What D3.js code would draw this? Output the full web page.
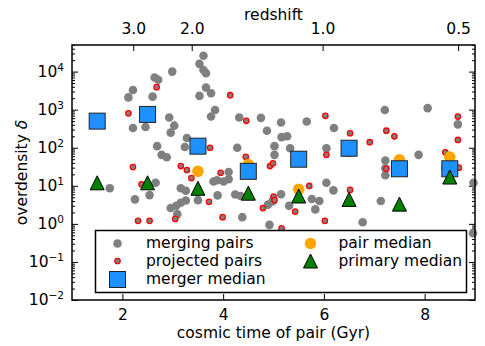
<!DOCTYPE html>
<html>
<head>
<meta charset="utf-8">
<script src="https://cdn.jsdelivr.net/npm/d3@7"></script>
<style>
  body { margin: 0; background: #fff; }
  svg text { font-family: "DejaVu Sans", sans-serif; }
</style>
</head>
<body>
<svg id="chart" width="485" height="346"></svg>
<script>
// merging pairs: cosmic time (Gyr) and overdensity
const mergeTime = [3.61, 3.53, 3.61, 3.66, 2.99, 2.64, 2.71, 3.66, 3.76, 3.53, 2.60, 2.21, 2.12,
  3.84, 3.76, 4.32, 2.93, 3.03, 2.96, 2.21, 2.46, 4.75, 4.87, 5.15, 5.16, 5.27, 5.02, 5.02, 5.33,
  5.66, 6.20, 7.21, 8.06, 8.66, 2.69, 2.78, 2.88, 3.28, 3.24, 4.28, 6.05, 7.88, 7.22, 7.22, 7.22,
  8.41, 4.11, 4.11, 4.01, 3.88, 3.81, 1.75, 2.66, 3.16, 3.26, 2.25, 2.54, 3.50, 3.26, 3.16, 3.07,
  2.96, 3.09, 3.89, 4.24, 4.35, 4.38, 5.15, 4.98, 4.89, 5.31, 4.92, 6.05, 6.19, 5.76, 5.91, 5.83,
  7.13, 6.77, 8.97, 8.96];
const mergeDelta = [26000, 16000, 11000, 9100, 10000, 7000, 6100, 3800, 2700, 2300, 2200, 3300, 2100,
  980, 660, 620, 620, 380, 250, 330, 350, 610, 280, 460, 190, 200, 110, 65, 97,
  490, 330, 980, 1100, 410, 110, 65, 56, 180, 105, 100, 97, 65, 46, 29, 19,
  29, 23, 15, 13, 14, 13, 8.6, 12, 8.6, 7.4, 4.4, 5.7, 4.2, 4.1, 3.6, 3.0,
  2.6, 1.8, 5.6, 5.9, 5.4, 1.5, 6.0, 3.9, 3.2, 3.0, 0.94, 12, 7.6, 4.5, 4.0, 2.4,
  4.0, 1.1, 12, 0.57];

// projected pairs
const projTime = [2.68, 4.14, 2.12, 4.46, 3.74, 4.45, 2.21, 3.16, 3.28, 3.37, 3.95, 2.38, 3.72,
  3.99, 2.31, 2.54, 3.05, 4.93, 4.99, 5.00, 5.02, 4.79, 5.16, 6.52, 7.24, 7.40, 6.91, 6.05,
  7.24, 5.71, 6.52, 5.43, 6.02, 6.03, 8.66, 8.66, 8.41, 8.68];
const projDelta = [3900, 2400, 800, 510, 100, 58, 31, 33, 26, 16, 22, 11, 3.8,
  1.5, 1.2, 1.2, 1.35, 33, 39, 5.2, 4.2, 2.6, 0.76, 240, 280, 200, 140, 65,
  28, 9.9, 7.8, 2.1, 1.2, 690, 660, 160, 76, 30];

// medians per time bin
const binTime = [1.5, 2.5, 3.5, 4.5, 5.5, 6.5, 7.5, 8.5];
const mergerMedian = [500, 750, 110, 24, 50, 97, 28, 28];
const pairMedian = [500, 750, 24, 36, 8.1, 80, 48, 57];
const primaryMedian = [12, 12, 8.6, 6.4, 5.4, 4.4, 3.3, 17];

const timeTicks = [2, 4, 6, 8];
const redshiftTicks = [3.0, 2.0, 1.0, 0.5];
const deltaExponents = [-2, -1, 0, 1, 2, 3, 4];

// age of a flat LCDM universe (Om = 0.25, h = 0.73)
function cosmicTime(z) {
  const om = 0.25, ol = 0.75, hubbleTime = 977.8 / 73;
  return 2 / (3 * Math.sqrt(ol)) * hubbleTime *
    Math.asinh(Math.sqrt(ol / om) * Math.pow(1 + z, -1.5));
}

const width = 485, height = 346;
const margin = { top: 45, right: 10, bottom: 46, left: 72 };
const fontSize = 15.5;

const svg = d3.select('#chart');

const x = d3.scaleLinear().domain([1, 9]).range([margin.left, width - margin.right]);
const y = d3.scaleLog().domain([1e-2, 5e4]).range([height - margin.bottom, margin.top]);

const majorY = deltaExponents.map((e) => Math.pow(10, e));
const minorY = [];
deltaExponents.forEach((e) => {
  for (let k = 2; k <= 9; k++) {
    const v = k * Math.pow(10, e);
    if (v <= 5e4) minorY.push(v);
  }
});

function styleAxis(g) {
  g.select('.domain').remove();
  g.selectAll('line').attr('stroke', '#000').attr('stroke-width', 1);
  g.selectAll('text').attr('font-family', 'DejaVu Sans').attr('font-size', fontSize).attr('fill', '#000');
}

// bottom axis
svg.append('g')
  .attr('transform', `translate(0,${height - margin.bottom})`)
  .call(d3.axisBottom(x).tickValues(timeTicks).tickFormat(d3.format('d'))
    .tickSizeInner(-6).tickSizeOuter(0).tickPadding(9))
  .call(styleAxis);

// top axis: redshift
svg.append('g')
  .attr('transform', `translate(0,${margin.top})`)
  .call(d3.axisTop(x).tickValues(redshiftTicks.map(cosmicTime))
    .tickFormat((d, i) => redshiftTicks[i].toFixed(1))
    .tickSizeInner(-6).tickSizeOuter(0).tickPadding(11))
  .call(styleAxis);

// left axis
const leftAxis = svg.append('g')
  .attr('transform', `translate(${margin.left},0)`)
  .call(d3.axisLeft(y).tickValues(majorY).tickFormat('')
    .tickSizeInner(-6).tickSizeOuter(0).tickPadding(8))
  .call(styleAxis);

leftAxis.selectAll('.tick').each((d, i, n) => {
  const t = d3.select(n[i]).append('text')
    .attr('x', -8)
    .attr('dy', '0.32em')
    .attr('text-anchor', 'end')
    .attr('font-family', 'DejaVu Sans')
    .attr('font-size', fontSize)
    .attr('fill', '#000')
    .text('10');
  const e = Math.round(Math.log10(d));
  t.append('tspan').attr('dy', -6).attr('font-size', 10.5)
    .text(e < 0 ? '\u2212' + Math.abs(e) : e);
});

svg.append('g')
  .attr('transform', `translate(${margin.left},0)`)
  .call(d3.axisLeft(y).tickValues(minorY).tickFormat('').tickSizeInner(-3).tickSizeOuter(0))
  .call(styleAxis);

// right axis, ticks only
svg.append('g')
  .attr('transform', `translate(${width - margin.right},0)`)
  .call(d3.axisRight(y).tickValues(majorY).tickFormat('').tickSizeInner(-6).tickSizeOuter(0))
  .call(styleAxis);
svg.append('g')
  .attr('transform', `translate(${width - margin.right},0)`)
  .call(d3.axisRight(y).tickValues(minorY).tickFormat('').tickSizeInner(-3).tickSizeOuter(0))
  .call(styleAxis);

// axis titles
svg.append('text')
  .attr('x', (margin.left + width - margin.right) / 2)
  .attr('y', 338)
  .attr('text-anchor', 'middle')
  .attr('font-size', fontSize)
  .text('cosmic time of pair (Gyr)');

svg.append('text')
  .attr('x', (margin.left + width - margin.right) / 2)
  .attr('y', 20)
  .attr('text-anchor', 'middle')
  .attr('font-size', fontSize)
  .text('redshift');

const yTitle = svg.append('text')
  .attr('transform', `translate(27,${(margin.top + height - margin.bottom) / 2}) rotate(-90)`)
  .attr('text-anchor', 'middle')
  .attr('font-size', fontSize)
  .text('overdensity ');
yTitle.append('tspan').attr('font-style', 'italic').text('\u03b4');

// data marks
const plot = svg.append('g');

plot.selectAll('circle.merge')
  .data(mergeTime)
  .join('circle')
  .attr('class', 'merge')
  .attr('cx', (d) => x(d))
  .attr('cy', (d, i) => y(mergeDelta[i]))
  .attr('r', 4.3)
  .style('fill', 'gray');

plot.selectAll('circle.proj')
  .data(projTime)
  .join('circle')
  .attr('class', 'proj')
  .attr('cx', (d) => x(d))
  .attr('cy', (d, i) => y(projDelta[i]))
  .attr('r', 2.7)
  .style('fill', 'gray')
  .style('stroke', 'red')
  .style('stroke-width', 1.3);

plot.selectAll('circle.pair')
  .data(binTime)
  .join('circle')
  .attr('class', 'pair')
  .attr('cx', (d) => x(d))
  .attr('cy', (d, i) => y(pairMedian[i]))
  .attr('r', 5.8)
  .style('fill', 'orange');

plot.selectAll('rect.merger')
  .data(binTime)
  .join('rect')
  .attr('class', 'merger')
  .attr('x', (d) => x(d) - 8)
  .attr('y', (d, i) => y(mergerMedian[i]) - 8)
  .attr('width', 16)
  .attr('height', 16)
  .style('fill', '#1e90ff')
  .style('stroke', '#222')
  .style('stroke-width', 1);

function triangle(cx, cy, s) {
  return `M${cx},${cy - s}L${cx + s},${cy + s}L${cx - s},${cy + s}Z`;
}

plot.selectAll('path.primary')
  .data(binTime)
  .join('path')
  .attr('class', 'primary')
  .attr('d', (d, i) => triangle(x(d), y(primaryMedian[i]), 7))
  .style('fill', 'green')
  .style('stroke', '#000')
  .style('stroke-width', 1);

// frame
svg.append('rect')
  .attr('x', margin.left)
  .attr('y', margin.top)
  .attr('width', width - margin.left - margin.right)
  .attr('height', height - margin.top - margin.bottom)
  .style('fill', 'none')
  .style('stroke', '#000')
  .style('stroke-width', 1.5);

// legend
const legend = svg.append('g');
legend.append('rect')
  .attr('x', 95.5).attr('y', 230.5)
  .attr('width', 371).attr('height', 62)
  .style('fill', '#fff')
  .style('stroke', '#000')
  .style('stroke-width', 1.5);

const rowY = [243.5, 261, 279.5];
const col1 = 117.5, col2 = 310.5;

legend.append('circle').attr('cx', col1).attr('cy', rowY[0]).attr('r', 4.3).style('fill', 'gray');
legend.append('circle').attr('cx', col1).attr('cy', rowY[1]).attr('r', 2.7)
  .style('fill', 'gray').style('stroke', 'red').style('stroke-width', 1.3);
legend.append('rect').attr('x', col1 - 8).attr('y', rowY[2] - 8).attr('width', 16).attr('height', 16)
  .style('fill', '#1e90ff').style('stroke', '#222');
legend.append('circle').attr('cx', col2).attr('cy', rowY[0]).attr('r', 5.8).style('fill', 'orange');
legend.append('path').attr('d', triangle(col2, rowY[1], 7))
  .style('fill', 'green').style('stroke', '#000');

const legendText = [
  ['merging pairs', 146, rowY[0]],
  ['projected pairs', 146, rowY[1]],
  ['merger median', 146, rowY[2]],
  ['pair median', 338.5, rowY[0]],
  ['primary median', 338.5, rowY[1]],
];
legend.selectAll('text')
  .data(legendText)
  .join('text')
  .attr('x', (d) => d[1])
  .attr('y', (d) => d[2])
  .attr('dy', '0.3em')
  .attr('font-size', fontSize)
  .text((d) => d[0]);
</script>
</body>
</html>
